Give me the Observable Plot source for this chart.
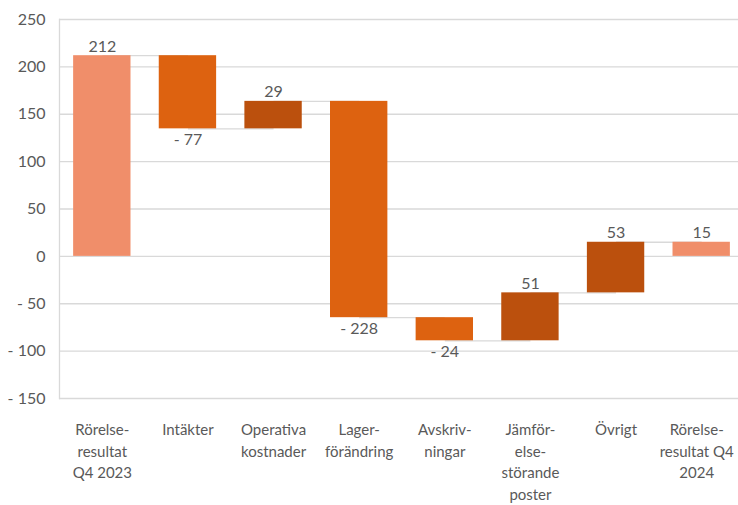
<!DOCTYPE html>
<html>
<head>
<meta charset="utf-8">
<script src="https://cdn.jsdelivr.net/npm/d3@7"></script>
<script src="https://cdn.jsdelivr.net/npm/@observablehq/plot@0.6"></script>
<style>
  html, body { margin: 0; padding: 0; background: #fff; overflow: hidden; }
  #chart svg { display: block; }
</style>
</head>
<body>
<div id="chart"></div>
<script>
// Categories (x axis labels, with line breaks as in the reference)
const categories = [
  "Rörelse-\nresultat\nQ4 2023",
  "Intäkter",
  "Operativa\nkostnader",
  "Lager-\nförändring",
  "Avskriv-\nningar",
  "Jämför-\nelse-\nstörande\nposter",
  "Övrigt",
  "Rörelse-\nresultat Q4\n2024"
];
// Bar kinds: start/end totals, decreases and increases
const kinds = ["total", "decrease", "increase", "decrease", "decrease", "increase", "increase", "total"];
// Step values (MSEK); the last total is the running sum
const steps = [211.8, -77.2, 29.0, -228.3, -24.4, 50.6, 53.4];
// Y axis ticks
const yTicks = [-150, -100, -50, 0, 50, 100, 150, 200, 250];

const colors = { total: "#F08E6A", decrease: "#DD6210", increase: "#BB500D" };
const textColor = "#595959";
const gridColor = "#D9D9D9";

const fmt = v => { const r = Math.round(v); return r < 0 ? "- " + Math.abs(r) : String(r); };

// Build waterfall table
const rows = [];
let running = 0;
categories.forEach((cat, i) => {
  let start, end, label;
  if (kinds[i] === "total") {
    const v = i === 0 ? steps[0] : running;
    start = 0; end = v; label = v; running = v;
  } else {
    start = running; end = running + steps[i]; label = steps[i]; running = end;
  }
  rows.push({ cat, kind: kinds[i], start, end, label,
              top: Math.max(start, end), bottom: Math.min(start, end) });
});
const links = rows.slice(0, -1).map((r, i) => ({ a: r.cat, b: rows[i + 1].cat, y: r.end }));

const chart = Plot.plot({
  width: 738,
  height: 505,
  marginTop: 19,
  marginBottom: 107,
  marginLeft: 59,
  marginRight: 0,
  style: { fontFamily: "Lato, 'Open Sans', sans-serif", color: textColor, background: "#fff" },
  x: { type: "band", domain: categories, range: [59, 744], paddingInner: 0.33, paddingOuter: 0.165, round: false, label: null },
  y: { domain: [-150, 250], label: null },
  marks: [
    Plot.ruleY(yTicks, { stroke: gridColor, strokeWidth: 1.3 }),
    Plot.frame({ anchor: "left", stroke: gridColor, strokeWidth: 1.3 }),
    Plot.link(links, { x1: "a", x2: "b", y1: "y", y2: "y", stroke: gridColor, strokeWidth: 1.3 }),
    Plot.barY(rows, { x: "cat", y1: "start", y2: "end", fill: d => colors[d.kind] }),
    Plot.text(rows.filter(d => d.label >= 0), {
      x: "cat", y: "top", text: d => fmt(d.label), lineAnchor: "bottom", dy: -4,
      fontSize: 16, fill: textColor
    }),
    Plot.text(rows.filter(d => d.label < 0), {
      x: "cat", y: "bottom", text: d => fmt(d.label), lineAnchor: "top", dy: 5,
      fontSize: 16, fill: textColor
    }),
    Plot.axisY(yTicks, { tickSize: 0, tickPadding: 14, tickFormat: fmt, fontSize: 16, fill: textColor, label: null }),
    Plot.axisX(categories.slice(0, -1), { tickSize: 0, tickPadding: 21, fontSize: 15, lineHeight: 1.45, fill: textColor, label: null }),
    Plot.axisX(categories.slice(-1), { tickSize: 0, tickPadding: 21, fontSize: 15, lineHeight: 1.45, fill: textColor, label: null, dx: -5 })
  ]
});
document.getElementById("chart").appendChild(chart);
</script>
</body>
</html>
